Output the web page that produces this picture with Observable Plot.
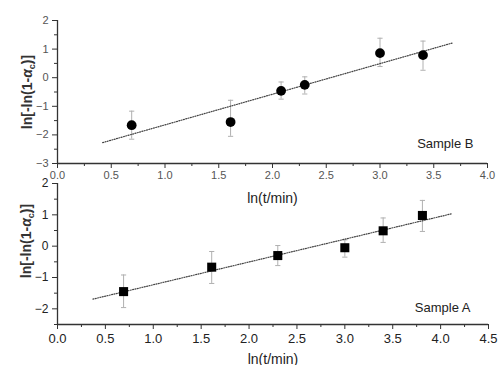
<!DOCTYPE html>
<html><head><meta charset="utf-8">
<script src="https://cdn.jsdelivr.net/npm/d3@7"></script>
<script src="https://cdn.jsdelivr.net/npm/@observablehq/plot@0.6"></script>
<style>
body{margin:0;background:#fff;}
#wrap{position:relative;width:498px;height:365px;overflow:hidden;}
#wrap svg{position:absolute;left:0;background:transparent;}
</style></head><body><div id="wrap"></div>
<script>
// Sample B (top panel)
const timesB = [0.69, 1.61, 2.08, 2.30, 3.00, 3.40];
const valuesB = [-1.66, -1.55, -0.46, -0.25, 0.86, 0.79];
const highB = [-1.17, -0.79, -0.15, 0.03, 1.38, 1.28];
const lowB = [-2.15, -2.05, -0.75, -0.57, 0.39, 0.26];
const fitXB = [0.42, 3.67];
const fitYB = [-2.27, 1.21];
// Sample A (bottom panel)
const timesA = [0.69, 1.61, 2.30, 3.00, 3.40, 3.81];
const valuesA = [-1.45, -0.67, -0.30, -0.05, 0.49, 0.98];
const highA = [-0.92, -0.17, 0.02, 0.20, 0.90, 1.46];
const lowA = [-1.96, -1.19, -0.62, -0.35, 0.12, 0.47];
const fitXA = [0.37, 4.11];
const fitYA = [-1.69, 1.03];
// axes
const xDomainB = [0, 4], yDomainB = [-3, 2];
const xDomainA = [0, 4.5], yDomainA = [-2.5, 2];
const xTicksB = [0, 0.5, 1, 1.5, 2, 2.5, 3, 3.5, 4];
const xMinorB = [0.25, 0.75, 1.25, 1.75, 2.25, 2.75, 3.25, 3.75];
const yTicksB = [-3, -2, -1, 0, 1, 2];
const yMinorB = [-2.5, -1.5, -0.5, 0.5, 1.5];
const xTicksA = [0, 0.5, 1, 1.5, 2, 2.5, 3, 3.5, 4, 4.5];
const xMinorA = [0.25, 0.75, 1.25, 1.75, 2.25, 2.75, 3.25, 3.75, 4.25];
const yTicksA = [-2, -1, 0, 1, 2];
const yMinorA = [-2.5, -1.5, -0.5, 0.5, 1.5];
const xTitle = "ln(t/min)";
const yTitle = "ln[-ln(1-αc)]";
const sampleLabels = ["Sample B", "Sample A"];

const fmt = d => d3.format(".1f")(d);
const capSymbol = {draw(ctx, size) { const w = 2.6; ctx.moveTo(-w, 0); ctx.lineTo(w, 0); }};

function panel(o) {
  const pts = o.t.map((t, i) => ({t, v: o.v[i], hi: o.hi[i], lo: o.lo[i]}));
  const fit = o.fx.map((x, i) => ({x, y: o.fy[i]}));
  return Plot.plot({
    width: 498, height: o.height,
    marginLeft: 57, marginRight: o.mr, marginTop: o.mt, marginBottom: o.mb,
    style: {background: "transparent", fontFamily: "Liberation Sans, Arial, sans-serif"},
    x: {domain: o.xd}, y: {domain: o.yd},
    marks: [
      Plot.ruleX(pts, {x: "t", y1: "lo", y2: "hi", stroke: "#b0b0b0", strokeWidth: 1}),
      Plot.dot(pts, {x: "t", y: "hi", symbol: capSymbol, stroke: "#b0b0b0", strokeWidth: 1, r: 3}),
      Plot.dot(pts, {x: "t", y: "lo", symbol: capSymbol, stroke: "#b0b0b0", strokeWidth: 1, r: 3}),
      Plot.line(fit, {x: "x", y: "y", stroke: "#444", strokeWidth: 1.2, strokeDasharray: "1,1.4"}),
      Plot.dot(pts, {x: "t", y: "v", symbol: o.symbol, r: o.r, fill: "#000", stroke: "none"}),
      Plot.axisX(o.xt, {tickSize: 5, tickPadding: o.xpad, tickFormat: fmt, fontSize: o.xfs, fill: o.tc, stroke: "#333",
        label: xTitle, labelAnchor: "center", labelOffset: o.xlo, labelArrow: false}),
      Plot.axisX(o.xm, {tickSize: 3, tickFormat: () => "", stroke: "#333", label: null}),
      Plot.axisY(o.yt, {tickSize: 5, tickPadding: o.ypad, fontSize: o.yfs, fill: o.tc, stroke: "#333",
        label: yTitle, labelAnchor: "center", labelOffset: o.ylo, labelArrow: false}),
      Plot.axisY(o.ym, {tickSize: 3, tickFormat: () => "", stroke: "#333", label: null}),
      Plot.ruleY([o.yd[0]], {stroke: "#333", strokeWidth: 1.3}),
      Plot.ruleX([o.xd[0]], {stroke: "#333", strokeWidth: 1.3}),
      Plot.text([o.sample], {frameAnchor: "bottom-right", textAnchor: "end", lineAnchor: "middle",
        dx: o.sdx, dy: o.sdy, fontSize: 13, fill: "#222"})
    ]
  });
}

const wrap = document.getElementById("wrap");
const topPlot = panel({t: timesB, v: valuesB, hi: highB, lo: lowB, fx: fitXB, fy: fitYB,
  xd: xDomainB, yd: yDomainB, xt: xTicksB, xm: xMinorB, yt: yTicksB, ym: yMinorB,
  height: 212, mt: 20, mb: 49, mr: 11, symbol: "circle", r: 4.9, xfs: 11, yfs: 11, tc: "#555",
  xpad: 3, ypad: 4, xlo: 39, ylo: 35, sample: sampleLabels[0], sdx: -14, sdy: -20});
topPlot.style.top = "0px";
const botPlot = panel({t: timesA, v: valuesA, hi: highA, lo: lowA, fx: fitXA, fy: fitYA,
  xd: xDomainA, yd: yDomainA, xt: xTicksA, xm: xMinorA, yt: yTicksA, ym: yMinorA,
  height: 195, mt: 13, mb: 41, mr: 10, symbol: "square", r: 5.1, xfs: 13, yfs: 12, tc: "#222",
  xpad: 4, ypad: 4, xlo: 39, ylo: 36, sample: sampleLabels[1], sdx: -18, sdy: -17});
botPlot.style.top = "170px";
wrap.appendChild(botPlot);
wrap.appendChild(topPlot);

// style axis titles; add subscript c
for (const [svg, shift] of [[topPlot, 0], [botPlot, 13]]) {
  svg.querySelectorAll("text").forEach(t => {
    const s = t.textContent.trim();
    if (s.startsWith(xTitle)) {
      t.textContent = xTitle;
      t.setAttribute("font-size", 14); t.setAttribute("fill", "#222");
    } else if (s.startsWith("ln[") || s.endsWith("ln[")) {
      t.setAttribute("font-size", 14); t.setAttribute("fill", "#333"); t.setAttribute("font-weight", "bold");
      t.setAttribute("font-family", "Liberation Sans Narrow, Liberation Sans, Arial, sans-serif");
      t.setAttribute("dx", shift);
      t.innerHTML = 'ln[-ln(1-<tspan font-style="italic">α</tspan><tspan dy="3" font-size="9">c</tspan><tspan dy="-3">)]</tspan>';
    }
  });
}
</script></body></html>
